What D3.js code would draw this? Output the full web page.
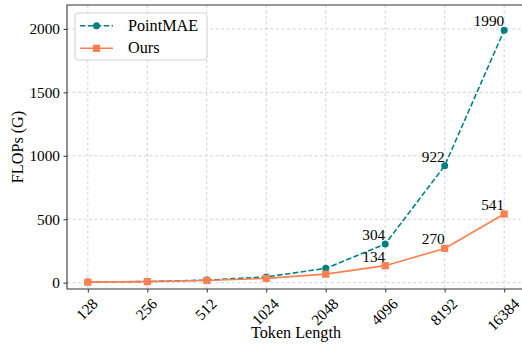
<!DOCTYPE html>
<html>
<head>
<meta charset="utf-8">
<script src="https://cdn.jsdelivr.net/npm/d3@7"></script>
<style>
  body { margin: 0; background: #fff; }
  svg text { font-family: "Liberation Serif", "Times New Roman", serif; fill: #000; }
</style>
</head>
<body>
<div id="chart"></div>
<script>
const tokenLengths = ['128', '256', '512', '1024', '2048', '4096', '8192', '16384'];
const pointMAE = [4.5, 9, 20, 45, 113, 304, 922, 1990];
const ours = [4, 8, 17, 34, 67, 134, 270, 541];
const yTicks = [0, 500, 1000, 1500, 2000];
const labeled = ['4096', '8192', '16384'];

const width = 522, height = 346;
const plotLeft = 67, plotRight = 525, plotTop = 5, plotBottom = 289;
const labelSize = 16.2;
const tickSize = 15.3;

const svg = d3.select('#chart').append('svg')
    .attr('width', width)
    .attr('height', height);

const x = d3.scalePoint()
    .domain(tokenLengths)
    .range([plotLeft, plotRight])
    .padding(0.35);

const y = d3.scaleLinear()
    .domain([-50, 2189])
    .range([plotBottom, plotTop]);

// grid
const grid = svg.append('g')
    .attr('stroke', '#c8c8c8')
    .attr('stroke-width', 0.8)
    .attr('stroke-dasharray', '3,2.5');
grid.selectAll('.gx').data(tokenLengths).enter().append('line')
    .attr('x1', d => x(d)).attr('x2', d => x(d))
    .attr('y1', plotTop).attr('y2', plotBottom);
grid.selectAll('.gy').data(yTicks).enter().append('line')
    .attr('x1', plotLeft).attr('x2', plotRight)
    .attr('y1', d => y(d)).attr('y2', d => y(d));

// axes
const yAxis = svg.append('g')
    .attr('transform', `translate(${plotLeft},0)`)
    .call(d3.axisLeft(y).tickValues(yTicks).tickFormat(d3.format('d')).tickSize(3.5).tickPadding(3.5));
const xAxis = svg.append('g')
    .attr('transform', `translate(0,${plotBottom})`)
    .call(d3.axisBottom(x).tickSize(3.5).tickFormat(''));
[xAxis, yAxis].forEach(a => {
    a.select('.domain').remove();
    a.selectAll('line').attr('stroke', '#333');
    a.selectAll('text').style('font-family', '"Liberation Serif", serif').style('font-size', tickSize + 'px').attr('fill', '#000');
});

// rotated x tick labels
const xl = svg.append('g');
tokenLengths.forEach(t => {
    const txt = xl.append('text')
        .attr('text-anchor', 'middle')
        .attr('dy', '0.35em')
        .style('font-size', tickSize + 'px')
        .text(t);
    const w = txt.node().getComputedTextLength();
    const c = (w + 14) / (2 * Math.SQRT2);
    txt.attr('transform', `translate(${x(t) - 1},${296 + c}) rotate(-45)`);
});

// spines
svg.append('path')
    .attr('d', `M${plotRight},${plotTop}H${plotLeft}V${plotBottom}H${plotRight}`)
    .attr('fill', 'none')
    .attr('stroke', '#333')
    .attr('stroke-width', 1.1);

// lines
const line = d3.line()
    .x((d, i) => x(tokenLengths[i]))
    .y(d => y(d));

svg.append('path')
    .datum(pointMAE)
    .attr('d', line)
    .attr('fill', 'none')
    .attr('stroke', 'teal')
    .attr('stroke-width', 1.6)
    .attr('stroke-dasharray', '5.5,2.4');

svg.append('path')
    .datum(ours)
    .attr('d', line)
    .attr('fill', 'none')
    .attr('stroke', 'coral')
    .attr('stroke-width', 1.6);

svg.selectAll('.pm').data(pointMAE).enter().append('circle')
    .attr('cx', (d, i) => x(tokenLengths[i]))
    .attr('cy', d => y(d))
    .attr('r', 3.5)
    .attr('fill', 'teal');

svg.selectAll('.ou').data(ours).enter().append('rect')
    .attr('x', (d, i) => x(tokenLengths[i]) - 3.6)
    .attr('y', d => y(d) - 3.6)
    .attr('width', 7.2)
    .attr('height', 7.2)
    .attr('fill', 'coral');

// value labels
[pointMAE, ours].forEach(series => {
    series.forEach((v, i) => {
        if (labeled.indexOf(tokenLengths[i]) < 0) return;
        svg.append('text')
            .attr('x', x(tokenLengths[i]))
            .attr('y', y(v) - 4)
            .attr('text-anchor', 'end')
            .style('font-size', tickSize + 'px')
            .text(v);
    });
});

// axis labels
svg.append('text')
    .attr('x', (plotLeft + plotRight) / 2)
    .attr('y', 337.5)
    .attr('text-anchor', 'middle')
    .style('font-size', labelSize + 'px')
    .text('Token Length');

svg.append('text')
    .attr('transform', `translate(23,${(plotTop + plotBottom) / 2}) rotate(-90)`)
    .attr('text-anchor', 'middle')
    .style('font-size', labelSize + 'px')
    .text('FLOPs (G)');

// legend
const lg = svg.append('g');
lg.append('rect')
    .attr('x', 75).attr('y', 13)
    .attr('width', 132).attr('height', 47)
    .attr('rx', 3)
    .attr('fill', '#fff').attr('fill-opacity', 0.8)
    .attr('stroke', '#d0d0d0');
const items = [
    { name: 'PointMAE', color: 'teal', dash: '5.5,2.4', shape: 'circle', cy: 25.7 },
    { name: 'Ours', color: 'coral', dash: null, shape: 'square', cy: 48.3 }
];
items.forEach(it => {
    lg.append('line')
        .attr('x1', 80).attr('x2', 113)
        .attr('y1', it.cy).attr('y2', it.cy)
        .attr('stroke', it.color).attr('stroke-width', 1.6)
        .attr('stroke-dasharray', it.dash);
    if (it.shape === 'circle') {
        lg.append('circle').attr('cx', 96.5).attr('cy', it.cy).attr('r', 3.5).attr('fill', it.color);
    } else {
        lg.append('rect').attr('x', 96.5 - 3.6).attr('y', it.cy - 3.6)
            .attr('width', 7.2).attr('height', 7.2).attr('fill', it.color);
    }
    lg.append('text')
        .attr('x', 128).attr('y', it.cy + 5)
        .style('font-size', labelSize + 'px')
        .text(it.name);
});
</script>
</body>
</html>
